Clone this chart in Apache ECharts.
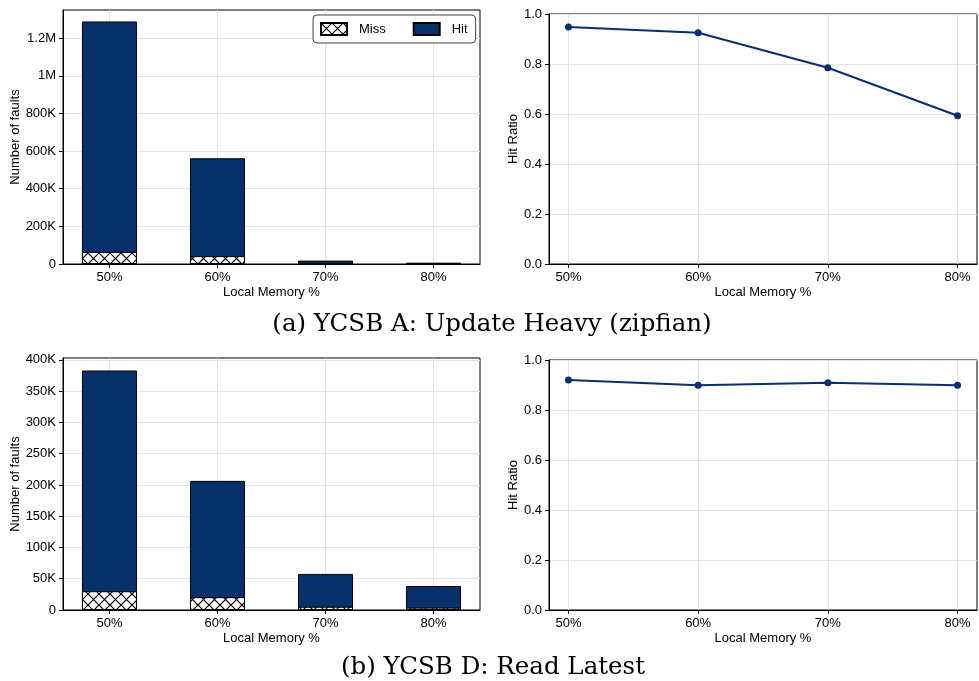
<!DOCTYPE html>
<html>
<head>
<meta charset="utf-8">
<script src="https://cdn.jsdelivr.net/npm/echarts@6/dist/echarts.min.js"></script>
<style>
  html, body { margin: 0; padding: 0; background: #fff; }
  #chart { width: 979px; height: 681px; }
</style>
</head>
<body>
<div id="chart"></div>
<script>
// ===== data =====
const categories = ['50%', '60%', '70%', '80%']
const categoryPos = [0, 1, 2, 3]

// (a) YCSB A: Update Heavy (zipfian)
const ycsbAMiss = [64000, 42000, 4000, 3000]
const ycsbAHit = [1225000, 520000, 14000, 4000]
const ycsbARatio = [0.948, 0.925, 0.785, 0.593]
const ycsbATicks = [0, 200000, 400000, 600000, 800000, 1000000, 1200000]

// (b) YCSB D: Read Latest
const ycsbDMiss = [30000, 20500, 5200, 3800]
const ycsbDHit = [353000, 186000, 52500, 34600]
const ycsbDRatio = [0.92, 0.899, 0.909, 0.899]
const ycsbDTicks = [0, 50000, 100000, 150000, 200000, 250000, 300000, 350000, 400000]

const ratioTicks = [0, 0.2, 0.4, 0.6, 0.8, 1.0]

const NAVY = '#08306b'
const GRID_LINE = '#e3e3e3'
const SANS = 'Liberation Sans, Arial, sans-serif'

// cross hatch pattern like matplotlib 'xx'
function makeHatch() {
  const s = 11
  const c = document.createElement('canvas')
  c.width = s
  c.height = s
  const ctx = c.getContext('2d')
  ctx.fillStyle = '#fff'
  ctx.fillRect(0, 0, s, s)
  ctx.strokeStyle = '#000'
  ctx.lineWidth = 1.2
  ctx.beginPath()
  ctx.moveTo(-1, -1); ctx.lineTo(s + 1, s + 1)
  ctx.moveTo(s + 1, -1); ctx.lineTo(-1, s + 1)
  ctx.stroke()
  return c
}
const hatch = makeHatch()

function fmtCount(v) {
  if (v >= 1e6) return (v / 1e6) + 'M'
  if (v >= 1e3) return (v / 1e3) + 'K'
  return String(v)
}

function xAxisFor(gridIndex, min, max) {
  return {
    type: 'value',
    gridIndex,
    min,
    max,
    name: 'Local Memory %',
    nameLocation: 'middle',
    nameGap: 22,
    nameTextStyle: { fontFamily: SANS, fontSize: 13, color: '#000' },
    axisLine: { show: true, onZero: false, lineStyle: { color: '#000', width: 1 } },
    axisTick: { show: true, length: 4, customValues: categoryPos, lineStyle: { color: '#000' } },
    axisLabel: {
      customValues: categoryPos,
      margin: 7,
      fontFamily: SANS,
      fontSize: 13,
      color: '#000',
      formatter: v => categories[Math.round(v)]
    },
    splitLine: { show: true, lineStyle: { color: GRID_LINE, width: 1 } }
  }
}

function yAxisFor(gridIndex, opts) {
  return Object.assign({
    type: 'value',
    gridIndex,
    nameLocation: 'middle',
    nameTextStyle: { fontFamily: SANS, fontSize: 13, color: '#000' },
    axisLine: { show: true, onZero: false, lineStyle: { color: '#000', width: 1 } },
    axisTick: { show: true, length: 4, customValues: opts.ticks, lineStyle: { color: '#000' } },
    axisLabel: {
      customValues: opts.ticks,
      margin: 7,
      fontFamily: SANS,
      fontSize: 13,
      color: '#000',
      formatter: opts.fmt
    },
    splitLine: { show: true, lineStyle: { color: GRID_LINE, width: 1 } }
  }, opts.extra)
}

// hit sits on top of miss: draw the full bar (miss + hit) first, then the miss part over it
function barSeries(name, idx, values, color, z) {
  return {
    name,
    type: 'bar',
    xAxisIndex: idx,
    yAxisIndex: idx,
    barWidth: 55,
    barGap: '-100%',
    z,
    itemStyle: { color, borderColor: '#000', borderWidth: 1 },
    emphasis: { disabled: true },
    data: values.map((v, i) => [categoryPos[i], v])
  }
}

function lineSeries(idx, values) {
  return {
    name: 'Hit Ratio ' + idx,
    type: 'line',
    xAxisIndex: idx,
    yAxisIndex: idx,
    symbol: 'circle',
    symbolSize: 7,
    lineStyle: { color: NAVY, width: 2 },
    itemStyle: { color: NAVY },
    emphasis: { disabled: true },
    data: values.map((v, i) => [categoryPos[i], v])
  }
}

const totalA = ycsbAHit.map((v, i) => v + ycsbAMiss[i])
const totalD = ycsbDHit.map((v, i) => v + ycsbDMiss[i])
const hatchFill = { image: hatch, repeat: 'repeat' }

const frame = { show: true, borderColor: '#000', borderWidth: 1, containLabel: false }

const option = {
  animation: false,
  backgroundColor: '#fff',
  title: [
    {
      text: '(a) YCSB A: Update Heavy (zipfian)',
      left: 487, top: 307, textAlign: 'center',
      textStyle: { fontFamily: 'DejaVu Serif', fontSize: 24.5, fontWeight: 'normal', color: '#000' }
    },
    {
      text: '(b) YCSB D: Read Latest',
      left: 488, top: 650, textAlign: 'center',
      textStyle: { fontFamily: 'DejaVu Serif', fontSize: 24.5, fontWeight: 'normal', color: '#000' }
    }
  ],
  legend: {
    data: ['Miss', 'Hit'],
    left: 313,
    top: 15,
    icon: 'rect',
    itemWidth: 26,
    itemHeight: 12,
    itemGap: 27,
    padding: [7, 8, 7, 7],
    borderColor: '#444',
    borderWidth: 1,
    borderRadius: 4,
    backgroundColor: '#fff',
    textStyle: { fontFamily: SANS, fontSize: 13, color: '#000', padding: [0, 0, 0, 7] }
  },
  grid: [
    Object.assign({ left: 63, top: 10, width: 417, height: 254 }, frame),
    Object.assign({ left: 549, top: 14, width: 428, height: 250 }, frame),
    Object.assign({ left: 63, top: 358, width: 417, height: 252 }, frame),
    Object.assign({ left: 549, top: 360, width: 428, height: 250 }, frame)
  ],
  xAxis: [
    xAxisFor(0, -0.43, 3.43),
    xAxisFor(1, -0.15, 3.15),
    xAxisFor(2, -0.43, 3.43),
    xAxisFor(3, -0.15, 3.15)
  ],
  yAxis: [
    yAxisFor(0, { ticks: ycsbATicks, fmt: fmtCount,
      extra: { min: 0, max: 1350000, interval: 200000, name: 'Number of faults', nameGap: 41 } }),
    yAxisFor(1, { ticks: ratioTicks, fmt: v => v.toFixed(1),
      extra: { min: 0, max: 1, interval: 0.2, name: 'Hit Ratio', nameGap: 29 } }),
    yAxisFor(2, { ticks: ycsbDTicks, fmt: fmtCount,
      extra: { min: 0, max: 403000, interval: 50000, name: 'Number of faults', nameGap: 41 } }),
    yAxisFor(3, { ticks: ratioTicks, fmt: v => v.toFixed(1),
      extra: { min: 0, max: 1, interval: 0.2, name: 'Hit Ratio', nameGap: 29 } })
  ],
  series: [
    barSeries('Hit', 0, totalA, NAVY, 2),
    barSeries('Miss', 0, ycsbAMiss, hatchFill, 3),
    lineSeries(1, ycsbARatio),
    barSeries('Hit', 2, totalD, NAVY, 2),
    barSeries('Miss', 2, ycsbDMiss, hatchFill, 3),
    lineSeries(3, ycsbDRatio)
  ]
}

const chart = echarts.init(document.getElementById('chart'), null, { renderer: 'canvas' })
chart.setOption(option)
</script>
</body>
</html>
